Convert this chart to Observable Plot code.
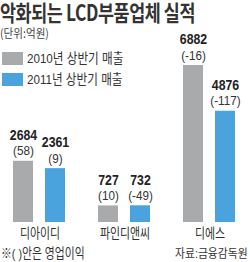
<!DOCTYPE html>
<html><head><meta charset="utf-8">
<script src="https://cdn.jsdelivr.net/npm/d3@7"></script>
<script src="https://cdn.jsdelivr.net/npm/@observablehq/plot@0.6"></script>
<style>
body{margin:0;background:#fff;}
#wrap{position:relative;width:250px;height:262px;overflow:hidden;font-family:"Liberation Sans","Noto Sans CJK KR",sans-serif;color:#333;}
#wrap svg{position:absolute;left:0;top:0;}
.sq{position:absolute;display:inline-block;transform-origin:left center;white-space:nowrap;}
</style>
</head><body>
<div id="wrap"></div>
<script>
const title = "악화되는 LCD부품업체 실적";
const unit = "(단위:억원)";
const companies = ["디아이디", "파인디앤씨", "디에스"];
const years = ["2010년 상반기 매출", "2011년 상반기 매출"];
const sales2010 = [2684, 727, 6882];
const sales2011 = [2361, 732, 4876];
const profit2010 = [58, 10, -16];
const profit2011 = [9, -49, -117];
const colors = ["#a9aaac", "#4ba3de"];
const note = "※( )안은 영업이익";
const source = "자료:금융감독원";

const data = [];
companies.forEach((c, i) => {
  data.push({company: c, year: years[0], sales: sales2010[i], profit: profit2010[i]});
  data.push({company: c, year: years[1], sales: sales2011[i], profit: profit2011[i]});
});
const fmtP = v => `(${v < 0 ? "-" + Math.abs(v) : v})`;

const chart = Plot.plot({
  width: 250, height: 262,
  marginTop: 65, marginBottom: 40, marginLeft: 0, marginRight: 0,
  style: {fontFamily: "'Liberation Sans','Noto Sans CJK KR',sans-serif", background: "transparent"},
  fx: {domain: companies, range: [-3, 252], paddingInner: 0, paddingOuter: 0, label: null},
  x: {domain: years, paddingInner: 0.364, paddingOuter: 0.47, axis: null},
  y: {domain: [0, d3.max([...sales2010, ...sales2011])], axis: null},
  color: {domain: years, range: colors},
  marks: [
    Plot.barY(data, {fx: "company", x: "year", y: "sales", fill: "year"}),
    Plot.text(data, {fx: "company", x: "year", y: "sales", text: d => String(d.sales), dy: -26, fontWeight: "bold", fontSize: 15, fill: "#222"}),
    Plot.text(data, {fx: "company", x: "year", y: "sales", text: d => fmtP(d.profit), dy: -10, fontSize: 13, fill: "#333"}),
    Plot.axisFx({anchor: "bottom", tickSize: 0, tickPadding: 6, fontSize: 14, label: null, fontFamily: "'Noto Sans CJK KR',sans-serif", fill: "#333"})
  ]
});
const wrap = document.getElementById("wrap");
wrap.appendChild(chart);

function squeeze(nodes, k) {
  nodes.forEach(t => {
    const len = t.getComputedTextLength();
    t.setAttribute("textLength", (len * k).toFixed(2));
    t.setAttribute("lengthAdjust", "spacingAndGlyphs");
  });
}
const textGroups = chart.querySelectorAll('g[aria-label="text"]');
squeeze(textGroups[0].querySelectorAll("text"), 0.82);
squeeze(textGroups[1].querySelectorAll("text"), 0.9);
squeeze(chart.querySelectorAll('g[aria-label="fx-axis tick label"] text'), 0.78);

function addText(str, css) {
  const el = document.createElement("div");
  el.className = "sq";
  el.textContent = str;
  Object.assign(el.style, css);
  wrap.appendChild(el);
  return el;
}
addText(title, {left: "0px", top: "0px", lineHeight: "22px", fontSize: "22px", fontWeight: "bold", fontFamily: "'Noto Sans CJK KR',sans-serif", transform: "scaleX(0.79)", color: "#333", letterSpacing: "-0.5px"});
addText(unit, {left: "0px", top: "27px", lineHeight: "12px", fontSize: "12px", fontFamily: "'Noto Sans CJK KR',sans-serif", transform: "scaleX(0.88)", color: "#444"});
years.forEach((y, i) => {
  const sw = document.createElement("div");
  Object.assign(sw.style, {position: "absolute", left: "2px", top: (52 + i * 21) + "px", width: "21px", height: "13px", background: colors[i]});
  wrap.appendChild(sw);
  addText(y, {left: "27px", top: (52 + i * 21) + "px", lineHeight: "13px", fontSize: "13.5px", fontFamily: "'Liberation Sans','Noto Sans CJK KR',sans-serif", transform: "scaleX(0.86)", color: "#333"});
});
addText(note, {left: "1px", top: "247px", lineHeight: "13px", fontSize: "13.5px", fontFamily: "'Liberation Sans','Noto Sans CJK KR',sans-serif", transform: "scaleX(0.8)", color: "#333"});
addText(source, {right: "2px", top: "247.5px", lineHeight: "12px", fontSize: "12px", fontFamily: "'Liberation Sans','Noto Sans CJK KR',sans-serif", transform: "scaleX(0.9)", transformOrigin: "right center", color: "#333"});
</script>
</body></html>
